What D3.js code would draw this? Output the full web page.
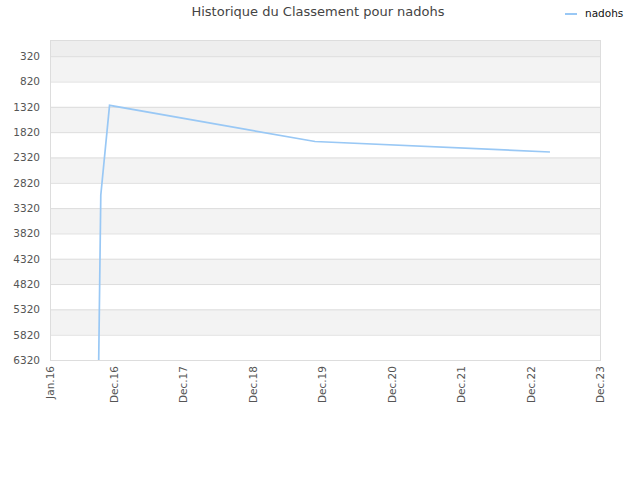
<!DOCTYPE html>
<html>
<head>
<meta charset="utf-8">
<script src="https://cdn.jsdelivr.net/npm/d3@7"></script>
<style>
  body { margin: 0; background: #fff; }
  text { font-family: "DejaVu Sans", sans-serif; }
</style>
</head>
<body>
<svg id="chart"></svg>
<script>
const player = "nadohs";
const dates = ["2016-09-13", "2016-09-24", "2016-11-09", "2019-10-25", "2023-03-13"];
const ranks = [6320, 3060, 1290, 2005, 2212];
const yTicks = [320, 820, 1320, 1820, 2320, 2820, 3320, 3820, 4320, 4820, 5320, 5820, 6320];
const xTickDates = ["2016-01-01", "2016-12-01", "2017-12-01", "2018-12-01", "2019-12-01",
  "2020-12-01", "2021-12-01", "2022-12-01", "2023-12-01"];
const xTickLabels = ["Jan.16", "Dec.16", "Dec.17", "Dec.18", "Dec.19", "Dec.20", "Dec.21", "Dec.22", "Dec.23"];

const width = 640, height = 480;
const margin = { top: 40, right: 40, bottom: 120, left: 50 };
const parse = d3.timeParse("%Y-%m-%d");
const data = dates.map((d, i) => ({ date: parse(d), rank: ranks[i] }));
const tickDates = xTickDates.map(parse);

const svg = d3.select("#chart").attr("width", width).attr("height", height);

const x = d3.scaleTime()
  .domain([tickDates[0], tickDates[tickDates.length - 1]])
  .range([margin.left, width - margin.right]);

const y = d3.scaleLinear()
  .domain([0, 6320])
  .range([margin.top, height - margin.bottom]);

// background bands
svg.append("rect")
  .attr("x", x.range()[0]).attr("y", y(0))
  .attr("width", x.range()[1] - x.range()[0])
  .attr("height", y(yTicks[0]) - y(0))
  .attr("fill", "#eeeeee");

svg.selectAll(".band")
  .data(yTicks.slice(0, -1))
  .enter().append("rect")
  .attr("x", x.range()[0])
  .attr("y", d => y(d))
  .attr("width", x.range()[1] - x.range()[0])
  .attr("height", (d, i) => y(yTicks[i + 1]) - y(d))
  .attr("fill", (d, i) => i % 2 === 0 ? "#f3f3f3" : "#ffffff");

// grid lines
svg.selectAll(".grid")
  .data(yTicks)
  .enter().append("line")
  .attr("x1", x.range()[0]).attr("x2", x.range()[1])
  .attr("y1", d => y(d) + 0.5).attr("y2", d => y(d) + 0.5)
  .attr("stroke", "#dddddd");

// frame
svg.append("rect")
  .attr("x", x.range()[0] + 0.5).attr("y", y.range()[0] + 0.5)
  .attr("width", x.range()[1] - x.range()[0])
  .attr("height", y.range()[1] - y.range()[0])
  .attr("fill", "none")
  .attr("stroke", "#dddddd");

// y axis labels
const yAxis = svg.append("g")
  .attr("transform", `translate(${margin.left - 10},0)`)
  .call(d3.axisLeft(y).tickValues(yTicks).tickFormat(d3.format("d")).tickSize(0).tickPadding(0));
yAxis.select(".domain").remove();
yAxis.selectAll("text").attr("font-size", 10.5).attr("fill", "#555");

// x axis labels
const xAxis = svg.append("g")
  .attr("transform", `translate(0,${height - margin.bottom + 6})`)
  .call(d3.axisBottom(x).tickValues(tickDates).tickFormat((d, i) => xTickLabels[i]).tickSize(0).tickPadding(0));
xAxis.select(".domain").remove();
xAxis.selectAll("text")
  .attr("font-size", 10.5)
  .attr("fill", "#555")
  .attr("text-anchor", "end")
  .attr("transform", "rotate(-90)")
  .attr("x", 0).attr("y", 0)
  .attr("dy", "0.35em")
  .attr("dx", "0");

// ranking line
const line = d3.line()
  .x(d => x(d.date))
  .y(d => y(d.rank));

svg.append("path")
  .datum(data)
  .attr("d", line)
  .attr("fill", "none")
  .attr("stroke", "#99c8f5")
  .attr("stroke-width", 1.7);

// title
svg.append("text")
  .attr("x", 318).attr("y", 16)
  .attr("text-anchor", "middle")
  .attr("font-size", 13)
  .attr("fill", "#444")
  .text("Historique du Classement pour " + player);

// legend
svg.append("line")
  .attr("x1", 565).attr("x2", 577)
  .attr("y1", 14).attr("y2", 14)
  .attr("stroke", "#99c8f5")
  .attr("stroke-width", 2);
svg.append("text")
  .attr("x", 585).attr("y", 17)
  .attr("font-size", 10.5)
  .attr("fill", "#111")
  .text(player);
</script>
</body>
</html>
